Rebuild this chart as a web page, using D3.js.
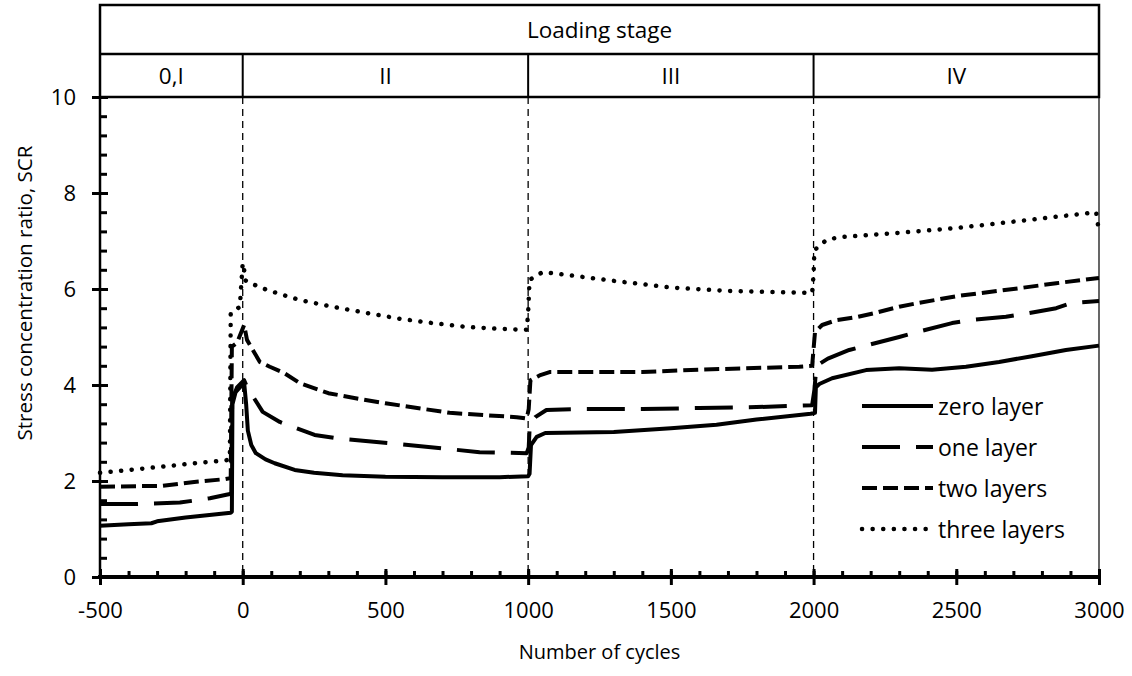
<!DOCTYPE html>
<html>
<head>
<meta charset="utf-8">
<script src="https://cdn.jsdelivr.net/npm/d3@7"></script>
<style>
  body { margin: 0; background: #fff; }
  text { font-family: "Open Sans", "Noto Sans", sans-serif; fill: #000; }
</style>
</head>
<body>
<div id="chart"></div>
<script>
// values: [cycles, SCR]
const zeroLayer = [
  [-500,1.07],[-400,1.1],[-320,1.12],[-300,1.16],[-200,1.24],[-100,1.3],[-42,1.34],[-38,1.36],
  [-36,3.6],[-25,3.85],[-10,3.95],[5,4.05],[12,3.6],[18,3.05],[30,2.75],[46,2.58],[80,2.45],
  [112,2.37],[182,2.23],[250,2.17],[350,2.12],[500,2.09],[700,2.08],[900,2.08],[1000,2.1],
  [1005,2.15],[1010,2.75],[1030,2.92],[1060,3.0],[1300,3.02],[1500,3.1],[1660,3.17],[1800,3.28],
  [1990,3.4],[2005,3.42],[2008,3.95],[2020,4.02],[2065,4.14],[2184,4.31],[2300,4.35],[2415,4.32],
  [2534,4.38],[2650,4.48],[2765,4.6],[2884,4.73],[3000,4.82]
];
const oneLayer = [
  [-500,1.52],[-377,1.52],[-220,1.55],[-115,1.64],[-45,1.73],[-40,1.75],[-37,3.7],[-20,3.95],
  [5,4.1],[15,3.96],[70,3.44],[130,3.23],[252,2.96],[340,2.88],[550,2.77],[830,2.6],[995,2.58],
  [1002,2.7],[1006,3.2],[1025,3.33],[1064,3.48],[1200,3.5],[1400,3.5],[1600,3.52],[1800,3.54],
  [1995,3.58],[2003,3.9],[2010,4.4],[2050,4.55],[2125,4.73],[2215,4.87],[2300,5.0],[2360,5.1],
  [2485,5.29],[2545,5.35],[2674,5.42],[2755,5.5],[2850,5.6],[2905,5.71],[3000,5.75]
];
const twoLayers = [
  [-500,1.88],[-280,1.9],[-170,1.98],[-60,2.04],[-42,2.06],[-38,4.8],[-20,4.88],[5,5.25],
  [15,4.94],[60,4.48],[95,4.38],[145,4.25],[200,4.04],[300,3.83],[400,3.72],[500,3.62],
  [725,3.42],[960,3.33],[995,3.3],[1002,3.5],[1008,4.1],[1040,4.2],[1075,4.27],[1400,4.27],
  [1600,4.32],[1950,4.38],[1995,4.4],[2005,5.1],[2030,5.25],[2080,5.35],[2155,5.42],[2215,5.5],
  [2300,5.63],[2360,5.7],[2500,5.85],[2700,6.0],[2850,6.12],[3000,6.23]
];
const threeLayers = [
  [-500,2.17],[-280,2.3],[-170,2.37],[-60,2.43],[-45,2.45],[-42,5.5],[-10,5.63],[-5,6.1],
  [0,6.54],[5,6.4],[8,6.19],[15,6.15],[85,5.98],[200,5.77],[315,5.63],[435,5.5],[550,5.38],
  [665,5.29],[785,5.21],[900,5.17],[995,5.15],[1000,5.5],[1005,6.19],[1050,6.35],[1100,6.32],
  [1300,6.17],[1500,6.03],[1700,5.96],[1995,5.92],[2000,6.3],[2003,6.81],[2045,7.02],[2090,7.08],
  [2300,7.17],[2500,7.27],[2755,7.44],[2990,7.6],[3000,7.19]
];

const seriesNames = ["zero layer", "one layer", "two layers", "three layers"];
const stageEdges = [-500, 0, 1000, 2000, 3000];
const stageLabels = ["0,I", "II", "III", "IV"];
const xTicks = [-500, 0, 500, 1000, 1500, 2000, 2500, 3000];
const yTicks = [0, 2, 4, 6, 8, 10];

const width = 1132, height = 676;
const margin = {top: 97, right: 33, bottom: 99, left: 100};
const headSize = 22.5, tickSize = 22, titleSize = 20, legendSize = 23;

const x = d3.scaleLinear().domain([-500, 3000]).range([margin.left, width - margin.right]);
const y = d3.scaleLinear().domain([0, 10]).range([height - margin.bottom, margin.top]);

const svg = d3.select("#chart").append("svg")
    .attr("width", width)
    .attr("height", height);

// header boxes
const headTop = 5, headMid = 54;
svg.append("rect")
    .attr("x", x(-500)).attr("y", headTop)
    .attr("width", x(3000) - x(-500)).attr("height", y(10) - headTop)
    .attr("fill", "none").attr("stroke", "#000").attr("stroke-width", 2.5);
svg.append("line")
    .attr("x1", x(-500)).attr("x2", x(3000))
    .attr("y1", headMid).attr("y2", headMid)
    .attr("stroke", "#000").attr("stroke-width", 2.5);
svg.append("text")
    .attr("x", (x(-500) + x(3000)) / 2).attr("y", (headTop + headMid) / 2)
    .attr("text-anchor", "middle").attr("dominant-baseline", "central")
    .style("font-size", headSize + "px")
    .text("Loading stage");

svg.append("g").selectAll("line")
    .data(stageEdges.slice(1, -1))
    .enter().append("line")
      .attr("x1", d => x(d)).attr("x2", d => x(d))
      .attr("y1", headMid).attr("y2", y(10))
      .attr("stroke", "#000").attr("stroke-width", 2);

svg.append("g").selectAll("text")
    .data(stageLabels)
    .enter().append("text")
      .attr("x", (d, i) => (x(stageEdges[i]) + x(stageEdges[i + 1])) / 2)
      .attr("y", (headMid + y(10)) / 2)
      .attr("text-anchor", "middle").attr("dominant-baseline", "central")
      .style("font-size", headSize + "px")
      .text(d => d);

// stage dividers in plot
svg.append("g").selectAll("line")
    .data(stageEdges.slice(1, -1))
    .enter().append("line")
      .attr("x1", d => x(d)).attr("x2", d => x(d))
      .attr("y1", y(10)).attr("y2", y(0))
      .attr("stroke", "#000").attr("stroke-width", 1.3)
      .attr("stroke-dasharray", "7,5");

// right border
svg.append("line")
    .attr("x1", x(3000)).attr("x2", x(3000))
    .attr("y1", y(10)).attr("y2", y(0))
    .attr("stroke", "#000").attr("stroke-width", 1.2);

// series
const line = d3.line().x(d => x(d[0])).y(d => y(d[1]));
const styles = [
  {dash: null, cap: "butt"},
  {dash: "38,16", cap: "butt"},
  {dash: "15,6", cap: "butt"},
  {dash: "0.1,10.5", cap: "round"}
];
const allSeries = [zeroLayer, oneLayer, twoLayers, threeLayers];

svg.append("g")
    .attr("fill", "none")
    .attr("stroke", "#000")
  .selectAll("path")
  .data(allSeries)
  .enter().append("path")
    .attr("d", line)
    .attr("stroke-width", (d, i) => i === 3 ? 4.5 : 4)
    .attr("stroke-linejoin", "round")
    .attr("stroke-linecap", (d, i) => styles[i].cap)
    .attr("stroke-dasharray", (d, i) => styles[i].dash);

const plain = d => String(d);

// y axis
const yMinor = d3.range(0, 10.01, 0.4);
svg.append("g")
    .attr("transform", `translate(${x(-500)},0)`)
    .call(d3.axisLeft(y).tickValues(yTicks).tickFormat(plain)
      .tickSizeInner(8).tickSizeOuter(0).tickPadding(16));
svg.append("g")
    .attr("transform", `translate(${x(-500)},0)`)
    .call(d3.axisRight(y).tickValues(yMinor).tickSizeInner(7).tickSizeOuter(0).tickFormat(""));
svg.append("g")
    .attr("transform", `translate(${x(-500)},0)`)
    .call(d3.axisRight(y).tickValues(yTicks).tickSizeInner(8).tickSizeOuter(0).tickFormat(""));

// x axis
const xMinor = d3.range(-500, 3001, 100);
svg.append("g")
    .attr("transform", `translate(0,${y(0)})`)
    .call(d3.axisBottom(x).tickValues(xTicks).tickFormat(plain)
      .tickSizeInner(8).tickSizeOuter(0).tickPadding(17));
svg.append("g")
    .attr("transform", `translate(0,${y(0)})`)
    .call(d3.axisTop(x).tickValues(xMinor).tickSizeInner(6).tickSizeOuter(0).tickFormat(""));
svg.append("g")
    .attr("transform", `translate(0,${y(0)})`)
    .call(d3.axisTop(x).tickValues(xTicks).tickSizeInner(8).tickSizeOuter(0).tickFormat(""));

svg.selectAll(".domain").remove();
svg.selectAll(".tick line").attr("stroke", "#000").attr("stroke-width", 3);
svg.selectAll(".tick text")
    .style("font-size", tickSize + "px");
svg.selectAll("g[font-family]").attr("font-family", null).attr("font-size", null);

svg.append("line")
    .attr("x1", x(-500)).attr("x2", x(-500))
    .attr("y1", y(10)).attr("y2", y(0))
    .attr("stroke", "#000").attr("stroke-width", 2.5);
svg.append("line")
    .attr("x1", x(-500) - 2).attr("x2", x(3000) + 1)
    .attr("y1", y(0)).attr("y2", y(0))
    .attr("stroke", "#000").attr("stroke-width", 4);

// axis titles
svg.append("text")
    .attr("x", (x(-500) + x(3000)) / 2).attr("y", 651)
    .attr("text-anchor", "middle").attr("dominant-baseline", "central")
    .style("font-size", titleSize + "px")
    .text("Number of cycles");
svg.append("text")
    .attr("transform", "translate(24,293) rotate(-90)")
    .attr("text-anchor", "middle").attr("dominant-baseline", "central")
    .style("font-size", (titleSize + 0.6) + "px")
    .text("Stress concentration ratio, SCR");

// legend
const legend = svg.append("g").attr("transform", "translate(862,406)");
const item = legend.selectAll("g")
    .data(seriesNames)
    .enter().append("g")
      .attr("transform", (d, i) => `translate(0,${i * 41})`);
item.append("line")
    .attr("x1", 0).attr("x2", 71)
    .attr("stroke", "#000")
    .attr("stroke-width", (d, i) => i === 3 ? 4.5 : 4)
    .attr("stroke-linecap", (d, i) => styles[i].cap)
    .attr("stroke-dasharray", (d, i) => styles[i].dash);
item.append("text")
    .attr("x", 76)
    .attr("dominant-baseline", "central")
    .style("font-size", legendSize + "px")
    .text(d => d);
</script>
</body>
</html>
